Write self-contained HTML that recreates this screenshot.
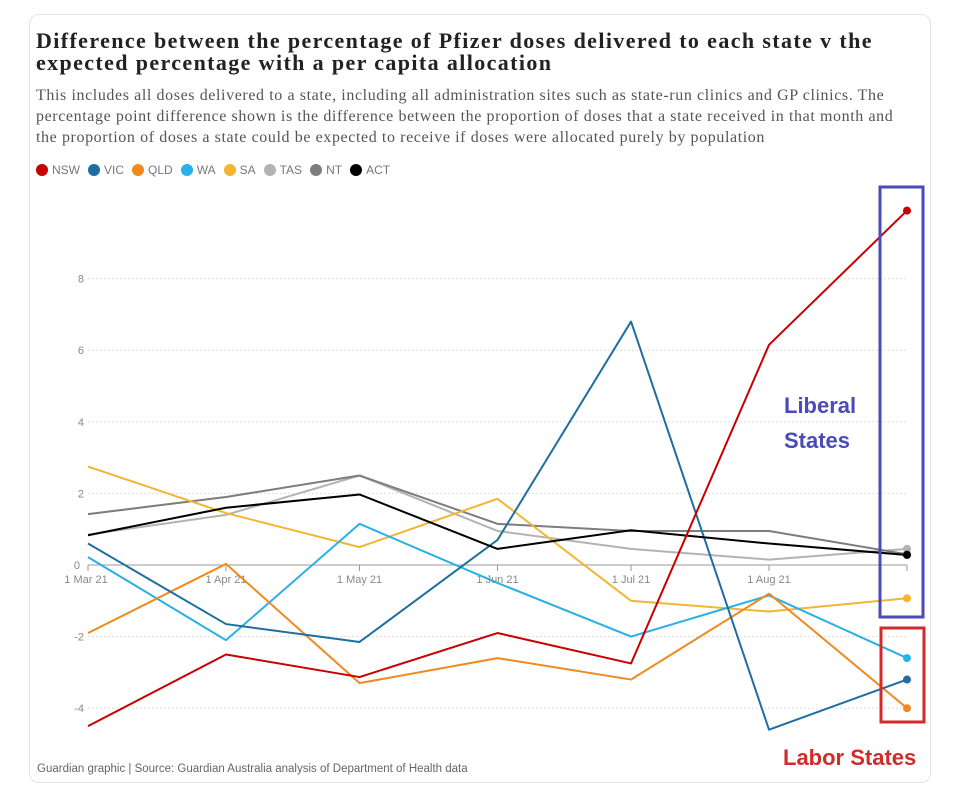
<!DOCTYPE html>
<html><head><meta charset="utf-8"><style>
body{margin:0;width:960px;height:788px;background:#fff;overflow:hidden;position:relative;font-family:"Liberation Sans",sans-serif}
.card{position:absolute;left:29px;top:14px;width:900px;height:767px;border:1px solid #e4e4e4;border-radius:10px}
.title{position:absolute;left:36px;top:30px;white-space:nowrap;font-family:"Liberation Serif",serif;font-weight:bold;font-size:22px;letter-spacing:1.38px;line-height:22px;color:#222}
.sub{position:absolute;left:36px;top:85px;white-space:nowrap;font-family:"Liberation Serif",serif;font-size:16px;letter-spacing:0.6px;line-height:21px;color:#555}
.legend{position:absolute;left:36px;top:163px;font-size:12px;color:#777;display:flex;gap:8px;align-items:center}
.legend span{display:flex;align-items:center;gap:4px}
.legend i{display:inline-block;width:12px;height:12px;border-radius:50%}
.foot{position:absolute;left:37px;top:763px;font-size:11.5px;color:#666}
</style></head><body>
<div class="card"></div>
<div class="title">Difference between the percentage of Pfizer doses delivered to each state v the<br>expected percentage with a per capita allocation</div>
<div class="sub">This includes all doses delivered to a state, including all administration sites such as state-run clinics and GP clinics. The<br>percentage point difference shown is the difference between the proportion of doses that a state received in that month and<br>the proportion of doses a state could be expected to receive if doses were allocated purely by population</div>
<div class="legend" id="legend"></div>
<svg id="chart" width="960" height="788" style="position:absolute;left:0;top:0"></svg>
<div class="foot">Guardian graphic | Source: Guardian Australia analysis of Department of Health data</div>
<script>
const months = ["2021-03-01","2021-04-01","2021-05-01","2021-06-01","2021-07-01","2021-08-01","2021-09-01"];
const tickLabels = ["1 Mar 21","1 Apr 21","1 May 21","1 Jun 21","1 Jul 21","1 Aug 21"];
const yTicks = [-4,-2,0,2,4,6,8];
const seriesNames = ["NSW","VIC","QLD","WA","SA","TAS","NT","ACT"];
const seriesColors = ["#c70000","#1e6ea0","#f08a1c","#29b0e6","#f2b632","#b3b3b3","#7d7d7d","#000000"];
const nsw = [-4.5,-2.5,-3.13,-1.9,-2.75,6.15,9.9];
const vic = [0.6,-1.65,-2.15,0.7,6.8,-4.6,-3.2];
const qld = [-1.9,0.03,-3.3,-2.6,-3.2,-0.8,-4.0];
const wa = [0.22,-2.1,1.15,-0.5,-2.0,-0.85,-2.6];
const sa = [2.75,1.45,0.5,1.85,-1.0,-1.3,-0.93];
const tas = [0.85,1.4,2.5,0.95,0.45,0.15,0.45];
const nt = [1.42,1.9,2.5,1.15,0.95,0.95,0.3];
const act = [0.83,1.6,1.97,0.45,0.97,0.6,0.28];
const allSeries = [nsw,vic,qld,wa,sa,tas,nt,act];

const NS="http://www.w3.org/2000/svg";
const svg=document.getElementById('chart');
const t0=Date.parse(months[0]), t1=Date.parse(months[months.length-1]);
const x=d=>88+(Date.parse(d)-t0)/(t1-t0)*(907-88);
const y=v=>565-v*35.8;
function mk(tag,attrs,parent){const e=document.createElementNS(NS,tag);for(const k in attrs)e.setAttribute(k,attrs[k]);(parent||svg).appendChild(e);return e;}

yTicks.forEach(v=>{
  const g=mk('line',{x1:88,x2:907,y1:y(v),y2:y(v),stroke:v===0?'#999':'#ddd','stroke-width':1,'stroke-dasharray':v===0?'':'2,2'});
  
  
  const t=mk('text',{x:v===0?80:84,y:y(v)+4,'text-anchor':'end','font-size':11,fill:'#888','font-family':'Liberation Sans, sans-serif'});
  t.textContent=v;
  
  
});
months.forEach((m,i)=>{
  const tk=mk('line',{x1:x(m),x2:x(m),y1:565,y2:571,stroke:'#999'});
  
  
  if(tickLabels[i]){
    const t=mk('text',{x:x(m)+(i===0?-2:0),y:583,'text-anchor':'middle','font-size':11,fill:'#888','font-family':'Liberation Sans, sans-serif'});
    t.textContent=tickLabels[i];
    
    
  }
});
const order=[5,6,4,3,2,1,7,0];
order.forEach(si=>{
  const data=allSeries[si];
  const p=mk('polyline',{points:data.map((v,i)=>x(months[i])+','+y(v)).join(' '),fill:'none',stroke:seriesColors[si],'stroke-width':2,'stroke-linejoin':'round'});
  
  
  const last=data.length-1;
  const c=mk('circle',{cx:x(months[last]),cy:y(data[last]),r:4,fill:seriesColors[si]});
  
  
});
const r1=mk('rect',{x:880,y:187,width:43,height:430,fill:'none',stroke:'#4a4ab8','stroke-width':3});


const r2=mk('rect',{x:881,y:628,width:43,height:94,fill:'none',stroke:'#d32a2a','stroke-width':3});


[["Liberal",413],["States",448]].forEach(([s,yy])=>{
  const t=mk('text',{x:784,y:yy,'font-size':22,'font-weight':'bold',fill:'#4a4ab8','font-family':'Liberation Sans, sans-serif'});
  t.textContent=s;
  
  
});
const lt=mk('text',{x:783,y:765,'font-size':22,'font-weight':'bold',fill:'#d32a2a','font-family':'Liberation Sans, sans-serif'});
lt.textContent="Labor States";



const lg=document.getElementById('legend');
seriesNames.forEach((n,i)=>{
  const s=document.createElement('span');
  
  
  s.innerHTML='<i style="background:'+seriesColors[i]+'"></i>'+n;
  lg.appendChild(s);
});
</script>
</body></html>
